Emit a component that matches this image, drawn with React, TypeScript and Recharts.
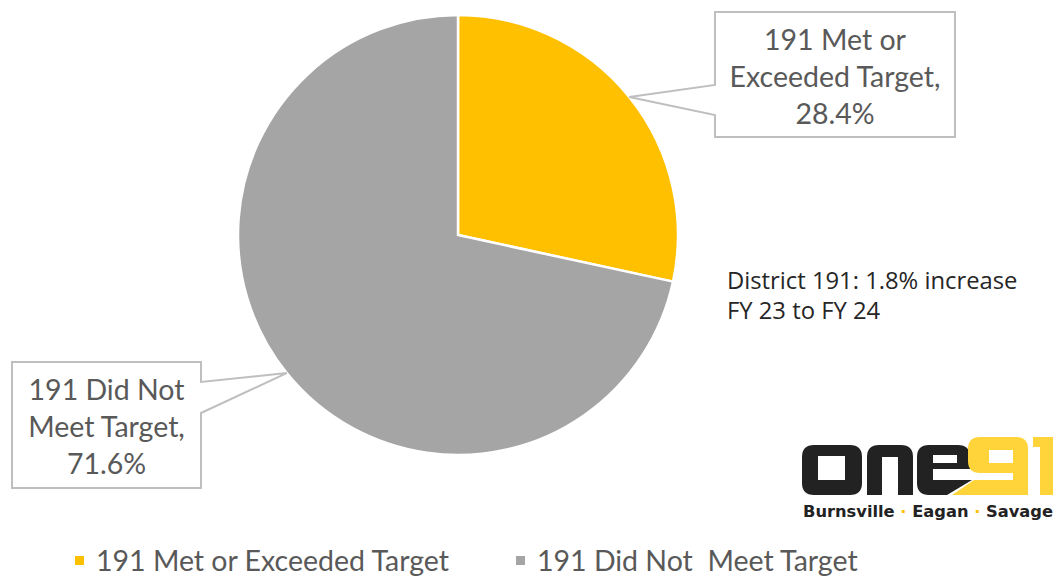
import { PieChart, Pie, Cell, Legend } from "recharts";

const categories = ["191 Met or Exceeded Target", "191 Did Not  Meet Target"];
const calloutLines = [
  ["191 Met or", "Exceeded Target,"],
  ["191 Did Not", "Meet Target,"],
];
const shares = [28.4, 71.6];

const COLORS = ["#FFC000", "#A5A5A5"];
const RADIAN = Math.PI / 180;

// callout boxes, placed like the original slide
const BOXES = [
  { x: 715, y: 12, w: 240, h: 125, side: "left", n1: 85, n2: 115 },
  { x: 12, y: 362, w: 189, h: 126, side: "right", n1: 382, n2: 413 },
];

const chartData = categories.map((name, i) => ({ name, value: shares[i] }));

const renderCallout = (props: any) => {
  const { cx, cy, midAngle, outerRadius, index, value } = props;
  const tx = cx + outerRadius * Math.cos(-midAngle * RADIAN);
  const ty = cy + outerRadius * Math.sin(-midAngle * RADIAN);
  const b = BOXES[index];
  const r = b.x + b.w;
  const btm = b.y + b.h;
  const d =
    b.side === "left"
      ? `M${b.x},${b.y} L${r},${b.y} L${r},${btm} L${b.x},${btm} L${b.x},${b.n2} L${tx},${ty} L${b.x},${b.n1} Z`
      : `M${b.x},${b.y} L${r},${b.y} L${r},${b.n1} L${tx},${ty} L${r},${b.n2} L${r},${btm} L${b.x},${btm} Z`;
  const mid = b.x + b.w / 2;
  const lines = [...calloutLines[index], `${Number(value).toFixed(1)}%`];
  return (
    <g key={`callout-${index}`}>
      <path d={d} fill="#fff" stroke="#BFBFBF" strokeWidth={2} />
      {lines.map((t, i) => (
        <text
          key={i}
          x={mid}
          y={b.y + 38 + i * 37}
          textAnchor="middle"
          fontFamily="Lato, 'Open Sans', sans-serif"
          fontSize={28.5}
          fill="#595959"
        >
          {t}
        </text>
      ))}
    </g>
  );
};

const LEGEND_X = [75, 516];

const renderLegend = () => (
  <div style={{ position: "relative", width: 1058, height: 36 }}>
    {categories.map((name, i) => (
      <div
        key={name}
        style={{
          position: "absolute",
          left: LEGEND_X[i],
          top: 0,
          display: "flex",
          alignItems: "center",
          whiteSpace: "pre",
          fontFamily: "Lato, 'Open Sans', sans-serif",
          fontSize: 28.5,
          color: "#595959",
        }}
      >
        <span
          style={{
            display: "inline-block",
            width: 9,
            height: 9,
            background: COLORS[i],
            marginRight: 12,
          }}
        />
        {name}
      </div>
    ))}
  </div>
);

function Logo() {
  return (
    <g>
      {/* o */}
      <path
        fillRule="evenodd"
        fill="#222"
        d="M814,445 H850 Q862,445 862,457 V483 Q862,495 850,495 H814 Q802,495 802,483 V457 Q802,445 814,445 Z M818,456 V480 H845 V456 Z"
      />
      {/* n */}
      <path
        fill="#222"
        d="M867,495 V457 Q867,445 879,445 H901 Q913,445 913,457 V495 H898 V457 H882 V495 Z"
      />
      {/* e */}
      <path
        fillRule="evenodd"
        fill="#222"
        d="M929,445 H958 Q970,445 970,457 V469 H933 V480 H972 L947,495 H929 Q917,495 917,483 V457 Q917,445 929,445 Z M933,455 V463 H957 V455 Z"
      />
      {/* 9 */}
      <path
        fillRule="evenodd"
        fill="#FFD43A"
        d="M980,437 H1016 Q1028,437 1028,449 V495 H952 L974,480 H1013 V473 H980 Q968,473 968,461 V449 Q968,437 980,437 Z M989,450 V463 H1013 V450 Z"
      />
      {/* 1 */}
      <path fill="#FFD43A" d="M1033,437 H1053 V495 H1040 V447 H1033 Z" />
      <text
        x={803}
        y={517}
        textLength={250}
        lengthAdjust="spacingAndGlyphs"
        fontFamily="'DejaVu Sans', sans-serif"
        fontWeight="bold"
        fontSize={15}
        fill="#222"
      >
        Burnsville <tspan fill="#FFC000">·</tspan> Eagan <tspan fill="#FFC000">·</tspan> Savage
      </text>
    </g>
  );
}

export default function App() {
  return (
    <div style={{ position: "absolute", left: 0, top: 0, width: 1058, height: 576, background: "#fff" }}>
      <PieChart width={1058} height={576} margin={{ top: 0, right: 0, bottom: 0, left: 0 }}>
        <Pie
          data={chartData}
          dataKey="value"
          nameKey="name"
          cx={458}
          cy={235}
          outerRadius={220}
          startAngle={90}
          endAngle={-270}
          stroke="#fff"
          strokeWidth={2.5}
          label={renderCallout}
          labelLine={false}
          isAnimationActive={false}
        >
          {chartData.map((d, i) => (
            <Cell key={d.name} fill={COLORS[i]} />
          ))}
        </Pie>
        <Legend content={renderLegend} wrapperStyle={{ left: 0, top: 543, width: 1058 }} />
      </PieChart>
      <svg
        width={1058}
        height={576}
        style={{ position: "absolute", left: 0, top: 0, pointerEvents: "none" }}
      >
        <text fontFamily="'Open Sans', sans-serif" fontSize={23.8} fill="#262626">
          <tspan x={727} y={289}>District 191: 1.8% increase</tspan>
          <tspan x={727} y={319}>FY 23 to FY 24</tspan>
        </text>
        <Logo />
      </svg>
    </div>
  );
}
